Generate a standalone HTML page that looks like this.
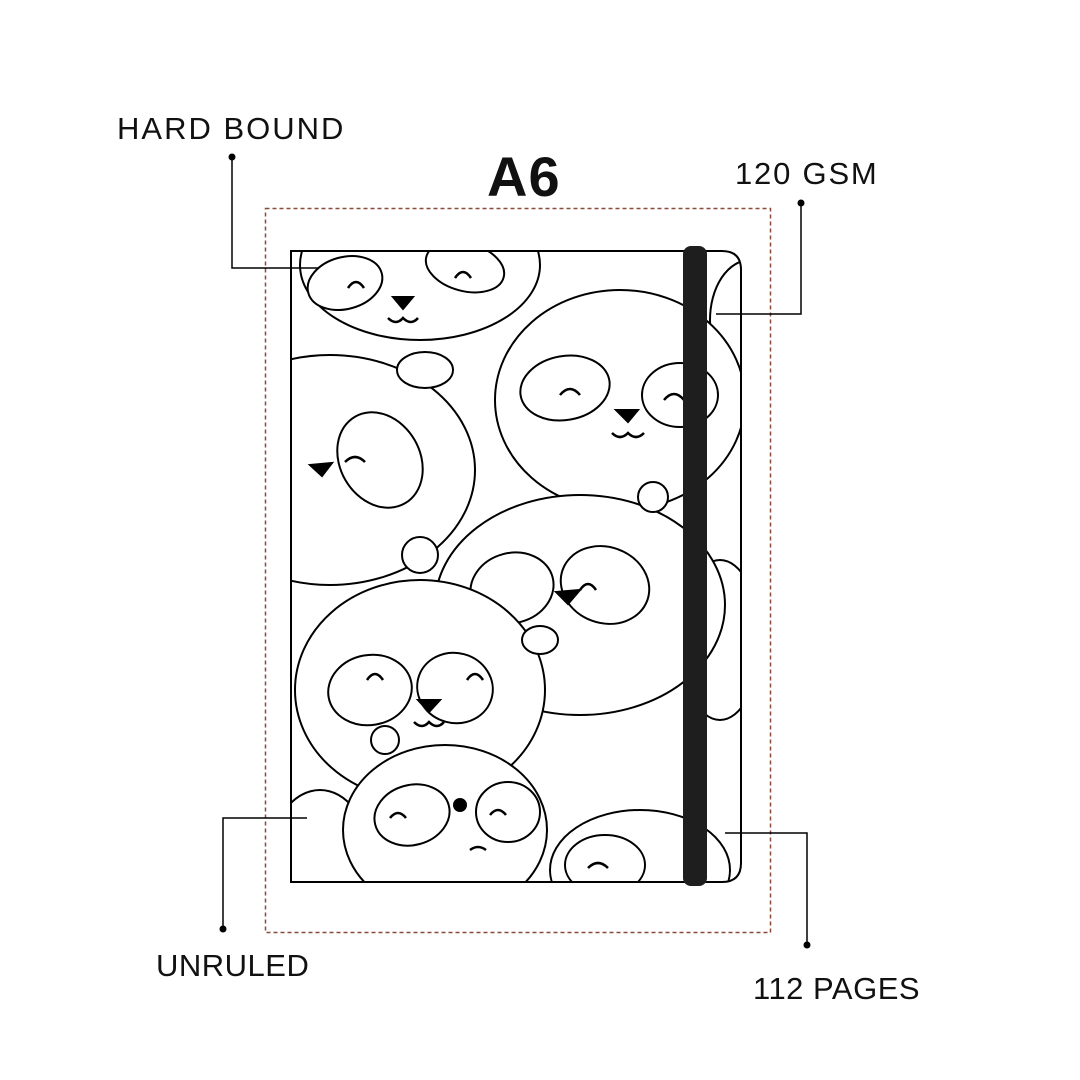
<!DOCTYPE html>
<html><head><meta charset="utf-8"><style>
html,body{margin:0;padding:0;background:#fff;}
body{width:1080px;height:1080px;position:relative;overflow:hidden;font-family:"Liberation Sans",sans-serif;}
.l{position:absolute;font-size:31px;color:#111;white-space:nowrap;letter-spacing:0.5px}
</style></head><body>
<svg width="1080" height="1080" style="position:absolute;left:0;top:0">
<defs><clipPath id="c"><path d="M291,251 H722 Q741,251 741,270 V863 Q741,882 722,882 H291 Z"/></clipPath></defs>
<rect x="265.5" y="208.5" width="505" height="724" fill="none" stroke="#8b4a3a" stroke-width="1.5" stroke-dasharray="4,3"/>
<g clip-path="url(#c)" stroke="#000" stroke-width="2" fill="#fff">
 <ellipse cx="420" cy="265" rx="120" ry="75"/>
 <ellipse cx="345" cy="283" rx="38" ry="26" transform="rotate(-15 345 283)"/>
 <ellipse cx="465" cy="267" rx="40" ry="24" transform="rotate(15 465 267)"/>
 <path d="M393,297 l20,0 l-10,12z" fill="#000"/>
 <ellipse cx="750" cy="320" rx="40" ry="60"/>
 <ellipse cx="620" cy="400" rx="125" ry="110"/>
 <ellipse cx="565" cy="388" rx="45" ry="32" transform="rotate(-10 565 388)"/>
 <ellipse cx="680" cy="395" rx="38" ry="32"/>
 <path d="M616,410 l22,0 l-10,12z" fill="#000"/>
 <ellipse cx="330" cy="470" rx="145" ry="115"/>
 <ellipse cx="380" cy="460" rx="40" ry="50" transform="rotate(-30 380 460)"/>
 <path d="M310,465 l22,-2 l-10,13z" fill="#000"/>
 <ellipse cx="425" cy="370" rx="28" ry="18"/>
 <ellipse cx="720" cy="640" rx="40" ry="80"/>
 <ellipse cx="580" cy="605" rx="145" ry="110"/>
 <ellipse cx="512" cy="588" rx="42" ry="35" transform="rotate(-15 512 588)"/>
 <ellipse cx="605" cy="585" rx="45" ry="38" transform="rotate(20 605 585)"/>
 <path d="M556,592 l24,-2 l-12,14z" fill="#000"/>
 <circle cx="653" cy="497" r="15"/>
 <circle cx="420" cy="555" r="18"/>
 <ellipse cx="420" cy="690" rx="125" ry="110"/>
 <ellipse cx="370" cy="690" rx="42" ry="35" transform="rotate(-10 370 690)"/>
 <ellipse cx="455" cy="688" rx="38" ry="35" transform="rotate(15 455 688)"/>
 <path d="M418,700 l22,0 l-11,12z" fill="#000"/>
 <ellipse cx="540" cy="640" rx="18" ry="14"/>
 <circle cx="385" cy="740" r="14"/>
 <ellipse cx="320" cy="860" rx="50" ry="70"/>
 <ellipse cx="640" cy="870" rx="90" ry="60"/>
 <ellipse cx="605" cy="865" rx="40" ry="30"/>
 <ellipse cx="445" cy="830" rx="102" ry="85"/>
 <ellipse cx="412" cy="815" rx="38" ry="30" transform="rotate(-15 412 815)"/>
 <ellipse cx="508" cy="812" rx="32" ry="30"/>
 <circle cx="460" cy="805" r="6" fill="#000"/>
 <g fill="none" stroke-width="2.5">
  <path d="M348,288 q8,-12 16,0 M455,278 q8,-12 16,0 M388,318 q8,8 15,0 q8,8 15,0 M560,395 q10,-12 20,0 M664,400 q10,-12 20,0 M612,433 q8,8 16,0 q8,8 16,0 M345,462 q10,-10 20,0 M367,680 q8,-12 16,0 M467,680 q8,-12 16,0 M414,722 q8,8 15,0 q8,8 15,0 M580,590 q8,-12 16,0 M390,818 q8,-10 16,0 M490,815 q8,-10 16,0 M588,868 q10,-10 20,0 M470,850 q8,-6 16,0"/>
 </g>
</g>
<path d="M291,251 H722 Q741,251 741,270 V863 Q741,882 722,882 H291 Z" fill="none" stroke="#000" stroke-width="2"/>
<rect x="683" y="246" width="24" height="640" rx="8" fill="#1e1e1e"/>
<g stroke="#000" stroke-width="1.5" fill="none">
 <path d="M232,157 V268 H318"/>
 <path d="M801,203 V314 H716"/>
 <path d="M223,929 V818 H307"/>
 <path d="M807,945 V833 H725"/>
</g>
<g fill="#000"><circle cx="232" cy="157" r="3.5"/><circle cx="801" cy="203" r="3.5"/><circle cx="223" cy="929" r="3.5"/><circle cx="807" cy="945" r="3.5"/></g>
</svg>
<div class="l" style="left:117px;top:111px;letter-spacing:2px">HARD BOUND</div>
<div class="l" style="left:487px;top:144px;font-size:56px;font-weight:bold;letter-spacing:1px">A6</div>
<div class="l" style="left:735px;top:156px;letter-spacing:1.8px">120 GSM</div>
<div class="l" style="left:156px;top:948px">UNRULED</div>
<div class="l" style="left:753px;top:971px">112 PAGES</div>
</body></html>
